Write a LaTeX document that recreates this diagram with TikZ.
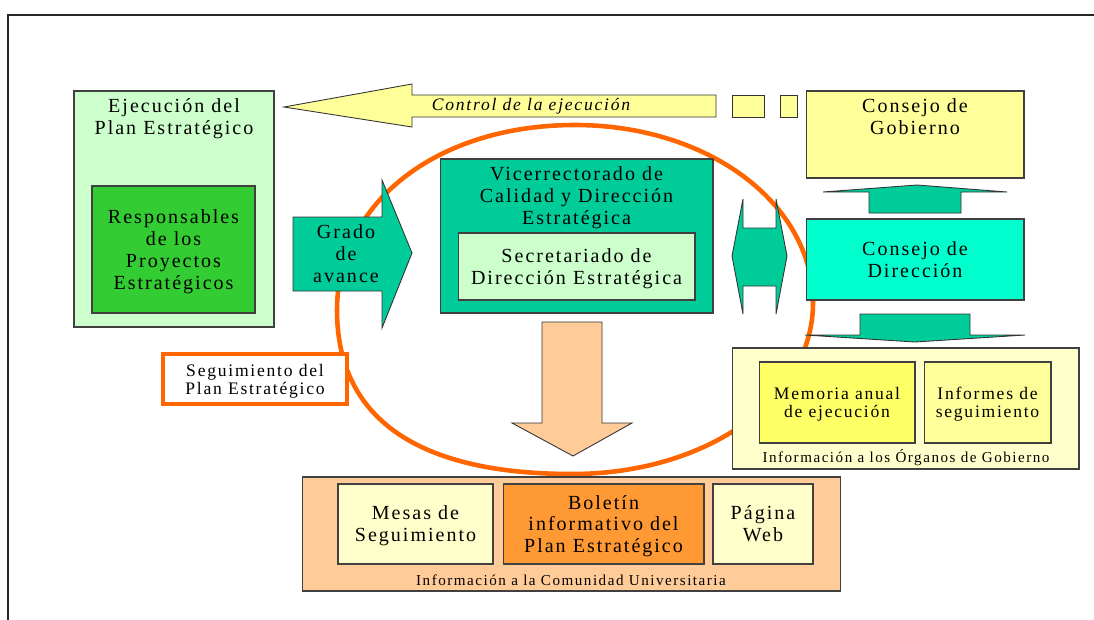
\documentclass[tikz,border=0pt]{standalone}
\usepackage{fontspec}
\setmainfont{Liberation Serif}[LetterSpace=10]
\newcommand\bigtxt{\fontsize{11.4}{12.5}\selectfont}
\newcommand\midtxt{\fontsize{10}{10.2}\selectfont}
\newcommand\smalltxt{\fontsize{8.6}{10}\selectfont}
\definecolor{ejecGreen}{HTML}{CCFFCC}
\definecolor{respGreen}{HTML}{33CC33}
\definecolor{paleYellow}{HTML}{FFFF99}
\definecolor{dirCyan}{HTML}{00FFCC}
\definecolor{viceGreen}{HTML}{00CC99}
\definecolor{segOrange}{HTML}{FF6600}
\definecolor{peach}{HTML}{FFCC99}
\definecolor{cream}{HTML}{FFFFCC}
\definecolor{boletinOrange}{HTML}{FF9933}
\definecolor{memYellow}{HTML}{FFFF66}
\begin{document}
\begin{tikzpicture}[x=0.02cm, y=-0.02cm,
    box/.style={rectangle, draw=black!75, line width=0.6pt, inner sep=0pt, align=center, text depth=0pt, font=\bigtxt},
    title/.style={align=center, inner sep=0pt, text depth=0pt, font=\bigtxt},
    label/.style={inner sep=0pt, font=\smalltxt},
    blockarrow/.style={draw=black!80, line width=0.5pt}]

    \useasboundingbox (0,0) rectangle (1094,619);
    \fill[white] (0,0) rectangle (1094,619);
    \draw[line width=1.1pt, black!85] (1100,15) -- (8,15) -- (8,625);

    % Seguimiento (orange ring)
    \draw[segOrange, line width=2.6pt] (337,310)
        .. controls (337,202.7) and (437,125) .. (575,125)
        .. controls (708,125) and (813,203.3) .. (813,303)
        .. controls (813,398.8) and (707,474) .. (572,474)
        .. controls (417,474) and (337,418) .. (337,310) -- cycle;

    % Execution side
    \node[box, fill=ejecGreen, minimum width=4cm, minimum height=4.72cm] (ejec) at (174,209) {};
    \node[title] (ejecT) at (174,117) {Ejecución del\\Plan Estratégico};
    \node[box, fill=respGreen, minimum width=3.26cm, minimum height=2.54cm] (resp) at (173.5,249.5) {Responsables\\de los\\Proyectos\\Estratégicos};

    % Control de la ejecucion
    \draw[blockarrow, fill=paleYellow] (284,107) -- (412,84) -- (412,95) -- (716,95) -- (716,117) -- (412,117) -- (412,127) -- cycle;
    \draw[blockarrow, fill=paleYellow] (732,95) rectangle (764,117);
    \draw[blockarrow, fill=paleYellow] (780,95) rectangle (797,117);
    \node[font=\fontsize{10}{12}\selectfont\itshape, inner sep=0pt] (control) at (531,106) {Control de la ejecución};

    % Grado de avance
    \draw[blockarrow, fill=viceGreen] (293,217) -- (382,217) -- (382,180) -- (412,253) -- (382,328) -- (382,291) -- (293,291) -- cycle;
    \node[title] (grado) at (346,254) {Grado\\de\\avance};

    % Vicerrectorado
    \node[box, fill=viceGreen, minimum width=5.46cm, minimum height=3.08cm] (vice) at (576.5,236) {};
    \node[title] (viceT) at (576.5,196) {Vicerrectorado de\\Calidad y Dirección\\Estratégica};
    \node[box, fill=ejecGreen, minimum width=4.74cm, minimum height=1.34cm] (secr) at (576.5,266.5) {Secretariado de\\Dirección Estratégica};

    % Double arrow to Consejo de Direccion
    \draw[blockarrow, fill=viceGreen] (732,256) -- (743,199) -- (743,228) -- (776,228) -- (776,199) -- (787,256) -- (776,314) -- (776,286) -- (743,286) -- (743,314) -- cycle;

    % Consejos
    \node[box, fill=paleYellow, minimum width=4.36cm, minimum height=1.74cm] (gob) at (915,134.5) {};
    \node[title] (gobT) at (915,117) {Consejo de\\Gobierno};
    \draw[blockarrow, fill=viceGreen] (869,213) -- (869,192) -- (823,192) -- (917,185) -- (1007,192) -- (961,192) -- (961,213) -- cycle;
    \node[box, fill=dirCyan, minimum width=4.36cm, minimum height=1.62cm] (dir) at (915,259.5) {Consejo de\\Dirección};
    \draw[blockarrow, fill=viceGreen] (860,314) -- (970,314) -- (970,335) -- (1025,335) -- (915,342) -- (805,335) -- (860,335) -- cycle;

    % Seguimiento del Plan
    \node[box, draw=segOrange, line width=2.2pt, fill=white, font=\midtxt, minimum width=3.68cm, minimum height=1cm] (segu) at (255,379) {Seguimiento del\\Plan Estratégico};

    % Informacion a los Organos de Gobierno
    \node[box, fill=cream, minimum width=6.94cm, minimum height=2.42cm] (organos) at (905.5,408.5) {};
    \node[box, fill=memYellow, font=\midtxt, minimum width=3.12cm, minimum height=1.62cm] (memoria) at (837,402.5) {Memoria anual\\de ejecución};
    \node[box, fill=paleYellow, font=\midtxt, minimum width=2.54cm, minimum height=1.62cm] (informes) at (987.5,402.5) {Informes de\\seguimiento};
    \node[label] (organosL) at (906,458) {Información a los Órganos de Gobierno};

    % Down to the university community
    \draw[blockarrow, fill=peach] (542,322) -- (602,322) -- (602,423) -- (632,423) -- (573,456) -- (512,423) -- (542,423) -- cycle;

    % Informacion a la Comunidad Universitaria
    \node[box, fill=peach, minimum width=10.78cm, minimum height=2.28cm] (comunidad) at (571.5,534) {};
    \node[box, fill=cream, minimum width=3.1cm, minimum height=1.6cm] (mesas) at (415.5,524) {Mesas de\\Seguimiento};
    \node[box, fill=boletinOrange, minimum width=4.02cm, minimum height=1.6cm] (boletin) at (603.5,524) {Boletín\\informativo del\\Plan Estratégico};
    \node[box, fill=cream, minimum width=2cm, minimum height=1.6cm] (pagina) at (763,524) {Página\\Web};
    \node[label] (comunidadL) at (571,580) {Información a la Comunidad Universitaria};

\end{tikzpicture}
\end{document}
